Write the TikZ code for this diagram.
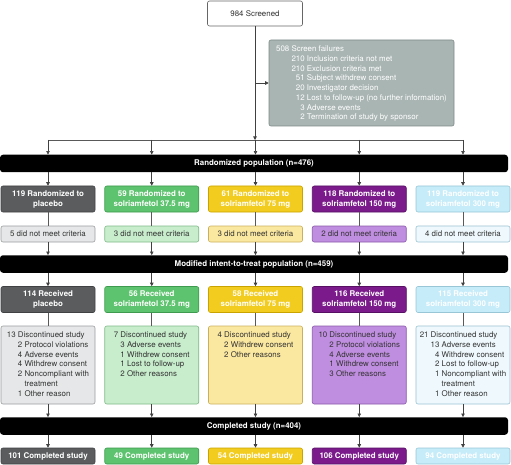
\documentclass[tikz,border=0pt]{standalone}
\usepackage{fontspec}
\setmainfont{TeX Gyre Heros}
\usetikzlibrary{arrows.meta}
\definecolor{gA}{HTML}{5A5C5E}\definecolor{gAb}{HTML}{3F4143}
\definecolor{gB}{HTML}{E5E7E8}\definecolor{gBb}{HTML}{9A9C9E}
\definecolor{nA}{HTML}{5DC36E}\definecolor{nAb}{HTML}{3E9A4E}
\definecolor{nB}{HTML}{C8EDCC}\definecolor{nBb}{HTML}{80B888}
\definecolor{yA}{HTML}{F2CC1F}\definecolor{yAb}{HTML}{C9A300}
\definecolor{yB}{HTML}{FBE8A0}\definecolor{yBb}{HTML}{C9B060}
\definecolor{pA}{HTML}{7B1A8B}\definecolor{pAb}{HTML}{560F63}
\definecolor{pB}{HTML}{C08EE0}\definecolor{pBb}{HTML}{8A5AAA}
\definecolor{bA}{HTML}{C6ECF9}\definecolor{bAb}{HTML}{98C6D6}
\definecolor{bB}{HTML}{EFF9FD}\definecolor{bBb}{HTML}{98C2D2}
\definecolor{sf}{HTML}{A9B5B3}\definecolor{sfb}{HTML}{7E8A88}
\definecolor{txt}{HTML}{333333}
\newcommand\fsm{\fontsize{7.9}{9.75}\selectfont}
\newcommand\fbd{\fontsize{7.9}{10}\selectfont\bfseries}
\begin{document}
\begin{tikzpicture}[x=1pt,y=-1pt,
  box/.style={draw, rounded corners=2pt, minimum width=94pt, inner sep=0pt, line width=0.6pt},
  mainbox/.style={box, minimum height=26pt, font=\fbd, text=white, align=center},
  subbox/.style={box, minimum height=16pt, font=\fsm, text=txt},
  discbox/.style={box, minimum height=78pt},
  compbox/.style={box, minimum height=16pt, font=\fbd, text=white},
  bar/.style={fill=black, rounded corners=3pt, minimum width=508pt, minimum height=17.5pt, inner sep=0pt, text=white, font=\fbd},
  txtblock/.style={anchor=north, inner sep=0pt, font=\fsm, text=txt},
  arr/.style={-{Triangle[length=3.5pt,width=3.5pt]}, draw=black!75, line width=0.6pt},
  ln/.style={draw=black!65, line width=0.6pt}]
\useasboundingbox (0,0) rectangle (511,465);
% top
\node[box, minimum width=95pt, minimum height=25pt, fill=white, draw=black!60, font=\fsm, text=txt] (scr) at (255,13.5) {984 Screened};
\node[box, minimum width=185pt, minimum height=86pt, fill=sf, draw=sfb] (fail) at (361.5,83) {};
\node[txtblock, text=white] (failt) at ([yshift=-5pt]fail.north) {\begin{tabular}{@{}l@{}r@{ }l@{}}
\multicolumn{3}{@{}l@{}}{508 Screen failures}\\
\phantom{508 } & 210 & Inclusion criteria not met\\
 & 210 & Exclusion criteria met\\
 & 51 & Subject withdrew consent\\
 & 20 & Investigator decision\\
 & 12 & Lost to follow-up (no further information)\\
 & 3 & Adverse events\\
 & 2 & Termination of study by sponsor
\end{tabular}};
\coordinate (split) at (255,140);
\coordinate (hl) at (48,140);
\coordinate (hr) at (463,140);
\draw[arr] (scr) -- (split);
\draw[arr] (scr.south |- fail.west) -- (fail.west);
\draw[ln] (hl) -- (hr);
% bars
\node[bar] (rbar) at (254,163.5) {Randomized population (n=476)};
\node[bar] (mbar) at (254,264) {Modified intent-to-treat population (n=459)};
\node[bar] (cbar) at (254,426) {Completed study (n=404)};
% randomized
\node[mainbox, fill=gA, draw=gAb] (r1) at (48,199) {119 Randomized to\\placebo};
\node[mainbox, fill=nA, draw=nAb] (r2) at (151.75,199) {59 Randomized to\\solriamfetol 37.5 mg};
\node[mainbox, fill=yA, draw=yAb] (r3) at (255.5,199) {61 Randomized to\\solriamfetol 75 mg};
\node[mainbox, fill=pA, draw=pAb] (r4) at (359.25,199) {118 Randomized to\\solriamfetol 150 mg};
\node[mainbox, fill=bA, draw=bAb] (r5) at (463,199) {119 Randomized to\\solriamfetol 300 mg};
% did not meet
\node[subbox, fill=gB, draw=gBb] (d1) at (48,234) {5 did not meet criteria};
\node[subbox, fill=nB, draw=nBb] (d2) at (151.75,234) {3 did not meet criteria};
\node[subbox, fill=yB, draw=yBb] (d3) at (255.5,234) {3 did not meet criteria};
\node[subbox, fill=pB, draw=pBb] (d4) at (359.25,234) {2 did not meet criteria};
\node[subbox, fill=bB, draw=bBb] (d5) at (463,234) {4 did not meet criteria};
% received
\node[mainbox, fill=gA, draw=gAb] (v1) at (48,299.5) {114 Received\\placebo};
\node[mainbox, fill=nA, draw=nAb] (v2) at (151.75,299.5) {56 Received\\solriamfetol 37.5 mg};
\node[mainbox, fill=yA, draw=yAb] (v3) at (255.5,299.5) {58 Received\\solriamfetol 75 mg};
\node[mainbox, fill=pA, draw=pAb] (v4) at (359.25,299.5) {116 Received\\solriamfetol 150 mg};
\node[mainbox, fill=bA, draw=bAb] (v5) at (463,299.5) {115 Received\\solriamfetol 300 mg};
% discontinued
\node[discbox, fill=gB, draw=gBb] (x1) at (48,365) {};
\node[discbox, fill=nB, draw=nBb] (x2) at (151.75,365) {};
\node[discbox, fill=yB, draw=yBb] (x3) at (255.5,365) {};
\node[discbox, fill=pB, draw=pBb] (x4) at (359.25,365) {};
\node[discbox, fill=bB, draw=bBb] (x5) at (463,365) {};
\node[txtblock] (t1) at ([yshift=-5pt]x1.north) {\begin{tabular}{@{}l@{}r@{ }l@{}}
\multicolumn{3}{@{}l@{}}{13 Discontinued study}\\
\phantom{13 } & 2 & Protocol violations\\
 & 4 & Adverse events\\
 & 4 & Withdrew consent\\
 & 2 & Noncompliant with\\
 & & treatment\\
 & 1 & Other reason
\end{tabular}};
\node[txtblock] (t2) at ([yshift=-5pt]x2.north) {\begin{tabular}{@{}l@{}r@{ }l@{}}
\multicolumn{3}{@{}l@{}}{7 Discontinued study}\\
\phantom{7 } & 3 & Adverse events\\
 & 1 & Withdrew consent\\
 & 1 & Lost to follow-up\\
 & 2 & Other reasons
\end{tabular}};
\node[txtblock] (t3) at ([yshift=-5pt]x3.north) {\begin{tabular}{@{}l@{}r@{ }l@{}}
\multicolumn{3}{@{}l@{}}{4 Discontinued study}\\
\phantom{4 } & 2 & Withdrew consent\\
 & 2 & Other reasons
\end{tabular}};
\node[txtblock] (t4) at ([yshift=-5pt]x4.north) {\begin{tabular}{@{}l@{}r@{ }l@{}}
\multicolumn{3}{@{}l@{}}{10 Discontinued study}\\
\phantom{10 } & 2 & Protocol violations\\
 & 4 & Adverse events\\
 & 1 & Withdrew consent\\
 & 3 & Other reasons
\end{tabular}};
\node[txtblock] (t5) at ([yshift=-5pt]x5.north) {\begin{tabular}{@{}l@{}r@{ }l@{}}
\multicolumn{3}{@{}l@{}}{21 Discontinued study}\\
\phantom{21 } & 13 & Adverse events\\
 & 4 & Withdrew consent\\
 & 2 & Lost to follow-up\\
 & 1 & Noncompliant with\\
 & & treatment\\
 & 1 & Other reason
\end{tabular}};
% completed
\node[compbox, fill=gA, draw=gAb] (c1) at (48,456) {101 Completed study};
\node[compbox, fill=nA, draw=nAb] (c2) at (151.75,456) {49 Completed study};
\node[compbox, fill=yA, draw=yAb] (c3) at (255.5,456) {54 Completed study};
\node[compbox, fill=pA, draw=pAb] (c4) at (359.25,456) {106 Completed study};
\node[compbox, fill=bA, draw=bAb] (c5) at (463,456) {94 Completed study};
% connectors
\foreach \i in {1,...,5} {
  \draw[arr] (hl -| r\i) -- (rbar.north -| r\i);
  \draw[arr] (rbar.south -| r\i) -- (r\i.north);
  \draw[ln] (r\i) -- (d\i);
  \draw[arr] (d\i.south) -- (mbar.north -| d\i);
  \draw[arr] (mbar.south -| v\i) -- (v\i.north);
  \draw[ln] (v\i.south) -- (x\i.north);
  \draw[arr] (x\i.south) -- (cbar.north -| x\i);
  \draw[arr] (cbar.south -| c\i) -- (c\i.north);
}
\end{tikzpicture}
\end{document}
